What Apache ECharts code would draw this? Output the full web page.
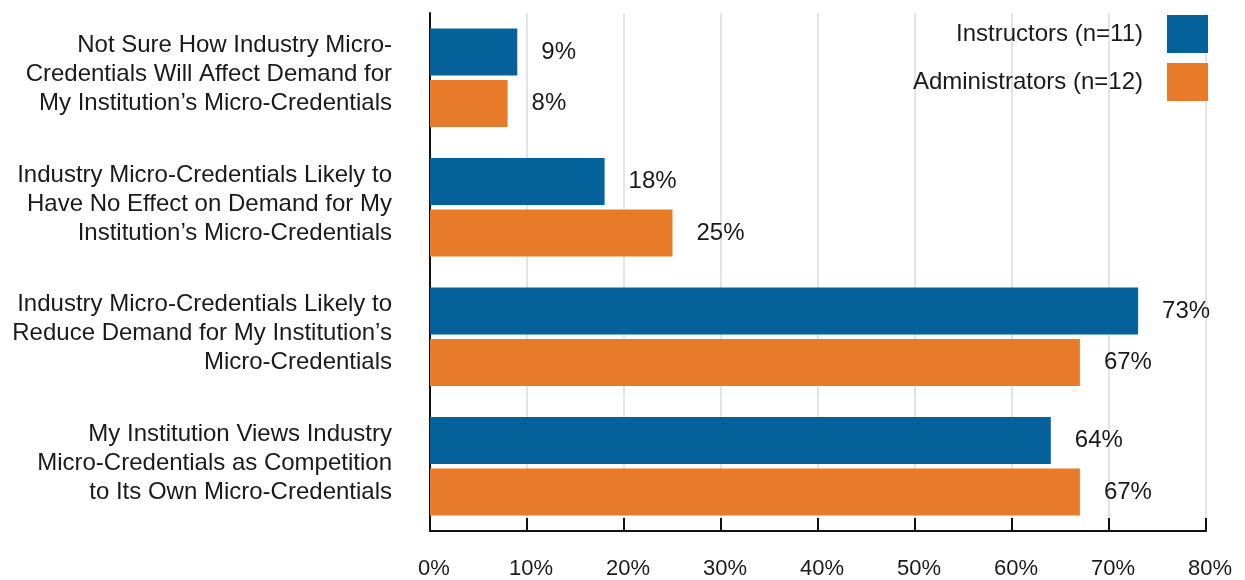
<!DOCTYPE html>
<html>
<head>
<meta charset="utf-8">
<script src="https://cdn.jsdelivr.net/npm/echarts@6/dist/echarts.min.js"></script>
<style>
  html, body { margin: 0; padding: 0; background: #fff; }
  #chart { width: 1245px; height: 580px; }
</style>
</head>
<body>
<div id="chart"></div>
<script>
// Survey statements (top to bottom)
const categories = [
  'Not Sure How Industry Micro-\nCredentials Will Affect Demand for\nMy Institution\u2019s Micro-Credentials',
  'Industry Micro-Credentials Likely to\nHave No Effect on Demand for My\nInstitution\u2019s Micro-Credentials',
  'Industry Micro-Credentials Likely to\nReduce Demand for My Institution\u2019s\nMicro-Credentials',
  'My Institution Views Industry\nMicro-Credentials as Competition\nto Its Own Micro-Credentials'
];
const seriesNames = ['Instructors (n=11)', 'Administrators (n=12)'];
const instructors = [9, 18, 73, 64];
const administrators = [8, 25, 67, 67];
const xTicks = [0, 10, 20, 30, 40, 50, 60, 70, 80];

const FONT = 'Liberation Sans';
const chart = echarts.init(document.getElementById('chart'), null, { renderer: 'canvas' });

const valueLabel = {
  show: true,
  position: 'right',
  distance: 24,
  formatter: '{c}%',
  color: '#1a1a1a',
  fontSize: 24,
  fontFamily: FONT
};

// Category text: each line as a rich token, plus a thin spacer line underneath
// that nudges the block slightly above the band centre.
function categoryLabel(text) {
  return text.split('\n').map(line => '{t|' + line + '}').join('\n') + '\n{s| }';
}

chart.setOption({
  animation: false,
  backgroundColor: '#ffffff',
  textStyle: { fontFamily: FONT },
  grid: { left: 430, right: 39, top: 13, bottom: 48, containLabel: false },
  legend: {
    orient: 'vertical',
    right: 32,
    top: 10,
    align: 'right',
    itemWidth: 41,
    itemHeight: 38,
    itemGap: 10,
    icon: 'rect',
    textStyle: { fontSize: 24, color: '#1a1a1a', fontFamily: FONT, padding: [0, 19, 0, 0] },
    data: seriesNames
  },
  xAxis: {
    type: 'value',
    min: xTicks[0],
    max: xTicks[xTicks.length - 1],
    interval: 10,
    axisLine: { show: true, lineStyle: { color: '#111', width: 2 } },
    axisTick: { show: true, inside: true, length: 13, lineStyle: { color: '#111', width: 2 } },
    axisLabel: {
      margin: 27,
      formatter: v => '{v|' + v + '%}',
      rich: { v: { fontSize: 22, color: '#1a1a1a', fontFamily: FONT, padding: [0, 0, 0, 8] } }
    },
    splitLine: { show: true, lineStyle: { color: '#e4e4e4', width: 2 } }
  },
  yAxis: {
    type: 'category',
    inverse: true,
    data: categories,
    axisLine: { show: true, lineStyle: { color: '#111', width: 2 } },
    axisTick: { show: false },
    axisLabel: {
      margin: 38,
      align: 'right',
      formatter: categoryLabel,
      rich: {
        t: { fontSize: 24, lineHeight: 29, color: '#1a1a1a', fontFamily: FONT, align: 'right' },
        s: { fontSize: 1, lineHeight: 6, align: 'right' }
      }
    }
  },
  series: [
    {
      name: seriesNames[0],
      type: 'bar',
      data: instructors,
      barWidth: 47,
      barGap: '10%',
      itemStyle: { color: '#04619a' },
      label: valueLabel
    },
    {
      name: seriesNames[1],
      type: 'bar',
      data: administrators,
      barWidth: 47,
      barGap: '10%',
      itemStyle: { color: '#e87b29' },
      label: valueLabel
    }
  ]
});
</script>
</body>
</html>
